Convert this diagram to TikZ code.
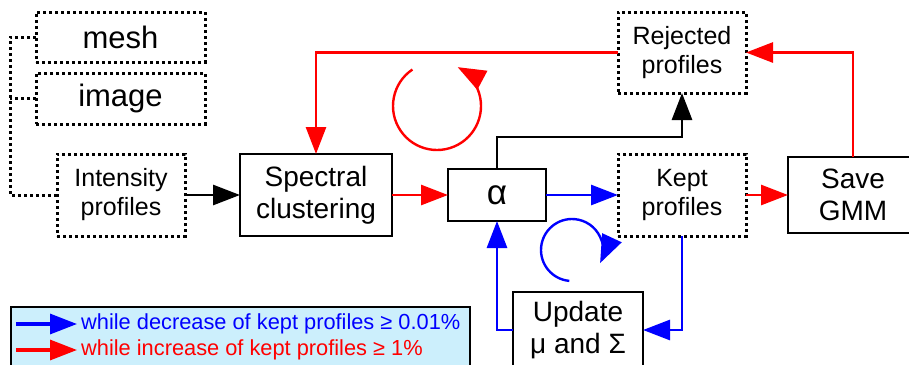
\documentclass[tikz,border=0pt]{standalone}
\usepackage{fontspec}
\setmainfont{Liberation Sans}
\usetikzlibrary{positioning,arrows.meta}

\begin{document}
\begin{tikzpicture}[x=1pt, y=-1pt,
					block/.style={rectangle, draw=black, line width=2.8pt, inner sep=0pt, outer sep=0pt, align=center, font=\fontsize{28}{32}\selectfont},
					dotbox/.style={rectangle, draw=black, line width=3pt, dash pattern=on 3pt off 3pt, inner sep=0pt, outer sep=0pt, align=center, font=\fontsize{25}{29}\selectfont},
					dotline/.style={line width=3pt, dash pattern=on 3pt off 3pt},
					link/.style={line width=2.8pt, -{Triangle[length=27pt,width=20pt]}},
					loop/.style={line width=2.4pt, -{Triangle[length=28pt,width=21pt]}},
					legtext/.style={rectangle, inner sep=4pt, anchor=west, font=\fontsize{21.8}{25}\selectfont}
				]
				\useasboundingbox (0,0) rectangle (909,364);
				% inputs
				\node[dotbox, minimum width=169pt, minimum height=50pt, font=\fontsize{31}{36}\selectfont] (mesh) at (120.5,37) {mesh};
				\node[dotbox, minimum width=169pt, minimum height=51pt, font=\fontsize{31}{36}\selectfont] (image) at (120.5,98.5) {image};
				\node[dotbox, minimum width=128pt, minimum height=82pt] (intens) at (121,195) {Intensity\\profiles};
				% main row
				\node[block, minimum width=152pt, minimum height=82pt] (spectral) [right=55pt of intens] {Spectral\\clustering};
				\node[block, minimum width=98pt, minimum height=52pt, font=\fontsize{35}{38}\selectfont] (alpha) [right=56pt of spectral] {α};
				\node[dotbox, minimum width=128pt, minimum height=82pt] (kept) [right=72pt of alpha] {Kept\\profiles};
				\node[dotbox, minimum width=128pt, minimum height=81pt] (rejected) [above=61pt of kept] {Rejected\\profiles};
				\node[block, minimum width=130pt, minimum height=76pt] (save) [right=42pt of kept] {Save\\GMM};
				\node[block, minimum width=130pt, minimum height=76pt] (update) at (578,330) {Update\\μ and Σ};
				% legend
				\node[rectangle, draw=black, line width=1.8pt, fill=cyan!20, minimum width=459pt, minimum height=61pt] (legend) at (240.5,337.5) {};
				\node[legtext, text=blue] (bluetext) at (77,324) {while decrease of kept profiles ≥ 0.01\%};
				\node[legtext, text=red] (redtext) at (77,350) {while increase of kept profiles ≥ 1\%};
				\coordinate (bluetail) at (16,324);
				\coordinate (redtail) at (16,350);
				\coordinate (rail) at (10,0);
				\coordinate (rejbend) at (682,137);
				% dotted bracket
				\draw[dotline] (mesh.west) -- (mesh.west -| rail) -- (intens.west -| rail) -- (intens.west);
				\draw[dotline] (image.west) -- (image.west -| rail);
				\begin{scope}[link]
				\draw (intens.east) -- (spectral.west);
				\draw (alpha.north) |- (rejbend) -- (rejected.south);
				\draw[red] (spectral.east) -- (alpha.west);
				\draw[red] (kept.east) -- (save.west);
				\draw[red] (save.north) |- (rejected.east);
				\draw[red] (rejected.west) -| (spectral.north);
				\draw[blue] (alpha.east) -- (kept.west);
				\draw[blue] (kept.south) |- (update.east);
				\draw[blue] (update.west) -| (alpha.south);
				\draw[blue, line width=3.2pt] (bluetail) -- (bluetext.west);
				\draw[red, line width=3.2pt] (redtail) -- (redtext.west);
				\end{scope}
				% iteration loops
				\draw[loop, red] (437,106) ++(236:44) arc[start angle=236, end angle=-62, radius=44];
				\draw[loop, blue] (572,250) ++(95:31) arc[start angle=95, end angle=385, radius=31];
				\end{tikzpicture}
\end{document}
